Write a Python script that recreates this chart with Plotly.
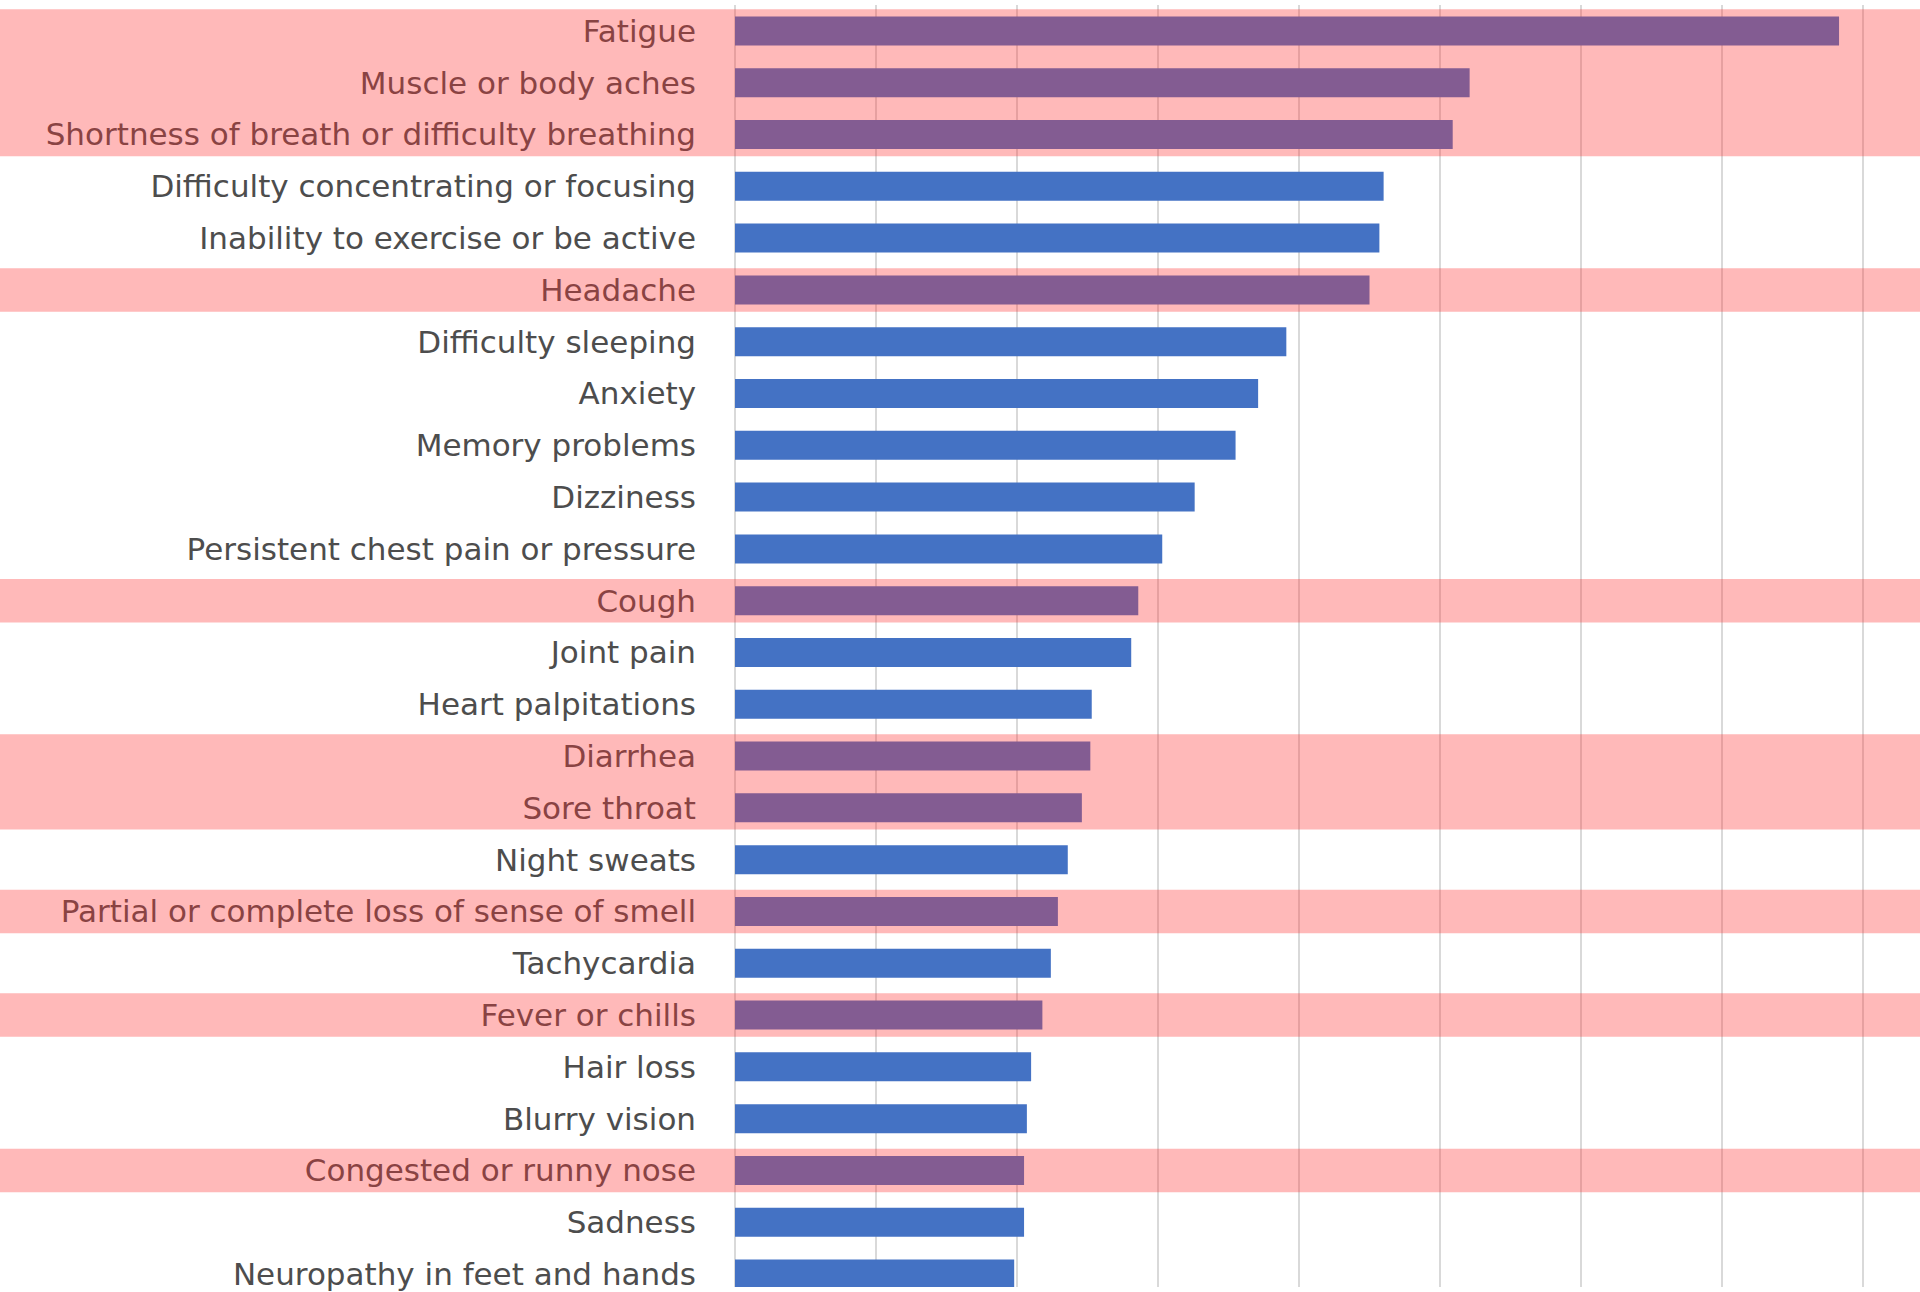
import plotly.graph_objects as go

# Symptom categories, in display order (top to bottom)
symptoms = [
    "Fatigue",
    "Muscle or body aches",
    "Shortness of breath or difficulty breathing",
    "Difficulty concentrating or focusing",
    "Inability to exercise or be active",
    "Headache",
    "Difficulty sleeping",
    "Anxiety",
    "Memory problems",
    "Dizziness",
    "Persistent chest pain or pressure",
    "Cough",
    "Joint pain",
    "Heart palpitations",
    "Diarrhea",
    "Sore throat",
    "Night sweats",
    "Partial or complete loss of sense of smell",
    "Tachycardia",
    "Fever or chills",
    "Hair loss",
    "Blurry vision",
    "Congested or runny nose",
    "Sadness",
    "Neuropathy in feet and hands",
]

# Share of respondents reporting each symptom (%)
percent = [
    78.3, 52.1, 50.9, 46.0, 45.7, 45.0, 39.1, 37.1, 35.5, 32.6,
    30.3, 28.6, 28.1, 25.3, 25.2, 24.6, 23.6, 22.9, 22.4, 21.8,
    21.0, 20.7, 20.5, 20.5, 19.8,
]

# Symptoms highlighted with a red band
highlighted = [
    "Fatigue",
    "Muscle or body aches",
    "Shortness of breath or difficulty breathing",
    "Headache",
    "Cough",
    "Diarrhea",
    "Sore throat",
    "Partial or complete loss of sense of smell",
    "Fever or chills",
    "Congested or runny nose",
]

grid_values = [0, 10, 20, 30, 40, 50, 60, 70, 80]

BAR_BLUE = "#4472C4"
BAND_FILL = "rgba(255, 50, 50, 0.34)"
TEXT_GREY = "#4d4d4d"
LABEL_FONT = "DejaVu Sans, Noto Sans, sans-serif"

fig = go.Figure(
    go.Bar(
        y=symptoms,
        x=percent,
        orientation="h",
        width=0.56,
        marker=dict(color=BAR_BLUE, line=dict(width=0)),
        hoverinfo="x+y",
    )
)

# Group consecutive highlighted rows into single bands
flags = [s in highlighted for s in symptoms]
runs = []
i = 0
while i < len(flags):
    if flags[i]:
        j = i
        while j + 1 < len(flags) and flags[j + 1]:
            j += 1
        runs.append((i, j))
        i = j + 1
    else:
        i += 1

half = 0.42
for start, end in runs:
    fig.add_shape(
        type="rect",
        xref="paper",
        yref="y",
        x0=-1,
        x1=1,
        y0=start - half,
        y1=end + half,
        fillcolor=BAND_FILL,
        line=dict(width=0),
        layer="above",
    )

fig.update_layout(
    width=1920,
    height=1292,
    margin=dict(l=735, r=0, t=5, b=0, pad=0),
    paper_bgcolor="white",
    plot_bgcolor="white",
    showlegend=False,
    bargap=0.44,
    font=dict(family=LABEL_FONT, color=TEXT_GREY),
    xaxis=dict(
        range=[0, 84.04],
        tickvals=grid_values,
        showticklabels=False,
        showgrid=True,
        gridcolor="#D9D9D9",
        gridwidth=1.5,
        zeroline=True,
        zerolinecolor="#D9D9D9",
        zerolinewidth=1.5,
        showline=False,
        ticks="",
        fixedrange=True,
    ),
    yaxis=dict(
        categoryorder="array",
        categoryarray=symptoms,
        range=[24.25, -0.5],
        showgrid=False,
        zeroline=False,
        showline=False,
        ticks="",
        ticklabelstandoff=38,
        tickfont=dict(size=31, color=TEXT_GREY, family=LABEL_FONT),
        fixedrange=True,
    ),
)

fig.write_html("out.html")
